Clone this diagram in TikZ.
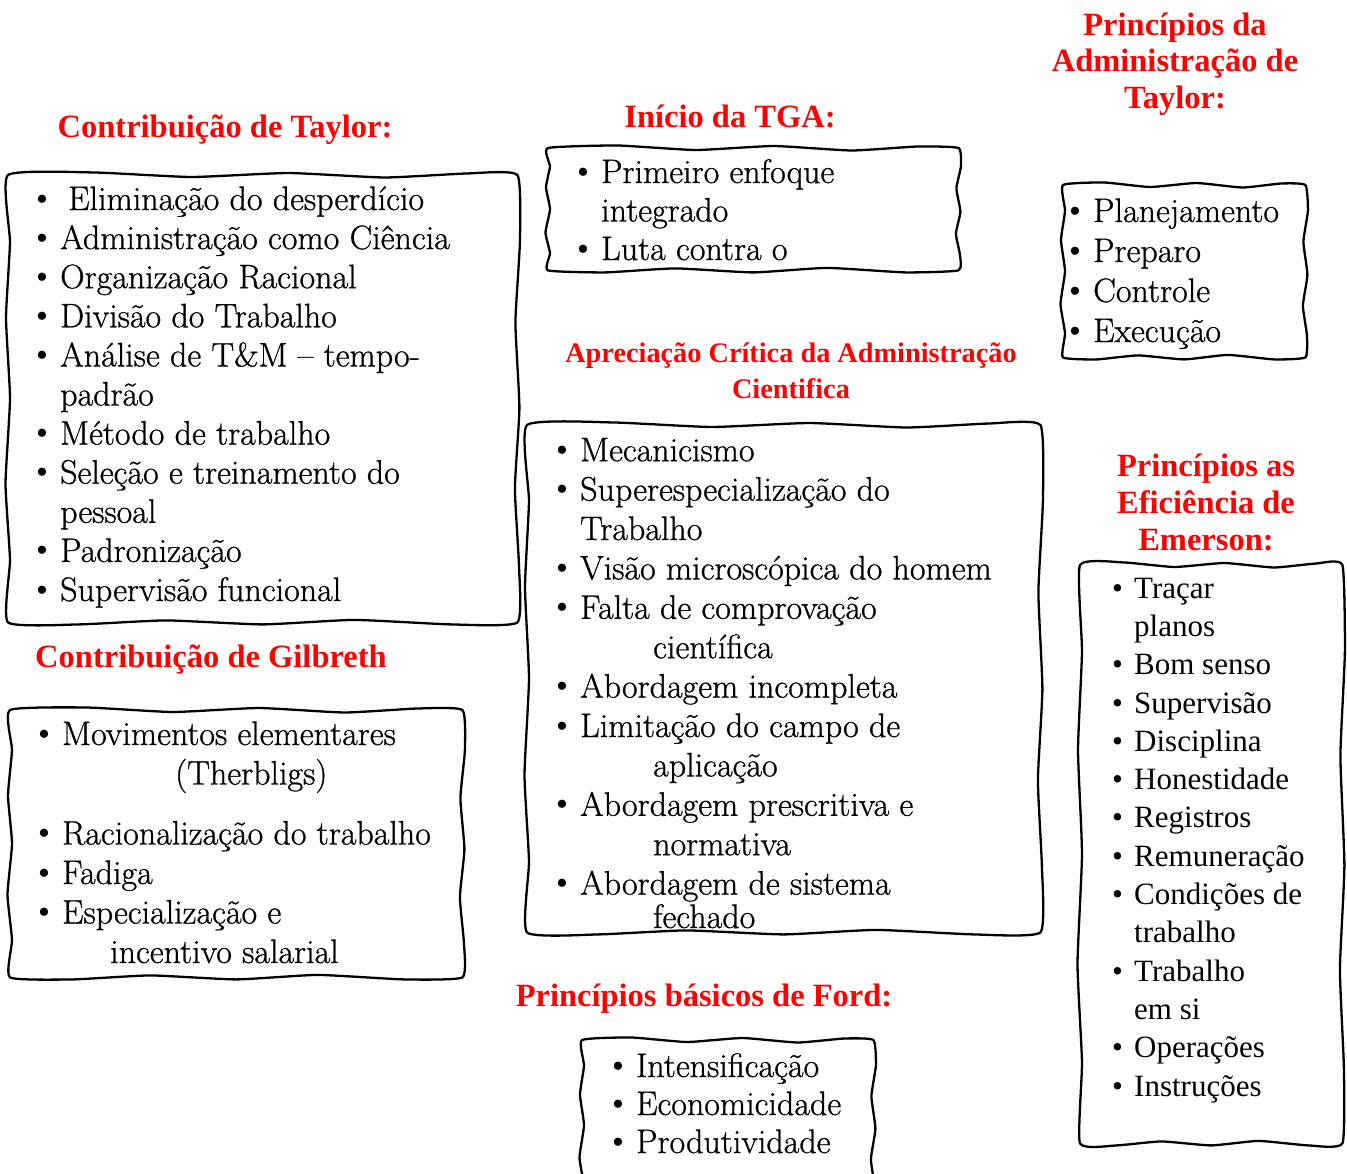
\documentclass[tikz,border=0pt]{standalone}
\usepackage{fontspec}
\setmainfont[FakeBold=0.8]{Latin Modern Roman}
\newfontfamily\headfont{Liberation Serif}
\usetikzlibrary{positioning, calc}
\definecolor{headred}{RGB}{255,0,0}
\newcommand{\bul}{\makebox[23pt][l]{{\headfont\hspace*{-1pt}•}}}
\newcommand{\cont}{\hspace*{23pt}}
\newcommand{\ebul}{\makebox[22pt][l]{•}}
% moldura ondulada feita a mao em volta de um no
\newcommand{\wavyframe}[1]{%
  \draw[framepen] plot[smooth cycle, tension=0.28] coordinates {%
    (#1.north west)
    ($(#1.north west)!0.17!(#1.north east)+(0,-2.5)$)
    ($(#1.north west)!0.36!(#1.north east)+(0,2)$)
    ($(#1.north west)!0.55!(#1.north east)+(0,-2)$)
    ($(#1.north west)!0.74!(#1.north east)+(0,2.5)$)
    ($(#1.north west)!0.9!(#1.north east)+(0,-1.5)$)
    (#1.north east)
    ($(#1.north east)!0.15!(#1.south east)+(2.5,0)$)
    ($(#1.north east)!0.33!(#1.south east)+(-2,0)$)
    ($(#1.north east)!0.52!(#1.south east)+(2,0)$)
    ($(#1.north east)!0.7!(#1.south east)+(-2.5,0)$)
    ($(#1.north east)!0.87!(#1.south east)+(1.5,0)$)
    (#1.south east)
    ($(#1.south east)!0.13!(#1.south west)+(0,2)$)
    ($(#1.south east)!0.32!(#1.south west)+(0,-2.5)$)
    ($(#1.south east)!0.5!(#1.south west)+(0,2)$)
    ($(#1.south east)!0.69!(#1.south west)+(0,-2)$)
    ($(#1.south east)!0.86!(#1.south west)+(0,2)$)
    (#1.south west)
    ($(#1.south west)!0.14!(#1.north west)+(2,0)$)
    ($(#1.south west)!0.31!(#1.north west)+(-2.5,0)$)
    ($(#1.south west)!0.5!(#1.north west)+(2,0)$)
    ($(#1.south west)!0.68!(#1.north west)+(-2,0)$)
    ($(#1.south west)!0.85!(#1.north west)+(2,0)$)
  };}

\begin{document}
\begin{tikzpicture}[
    x=1pt, y=-1pt,
    framepen/.style={draw, line width=2.3pt, line join=round},
    boxnode/.style={inner sep=0pt, anchor=north west},
    head/.style={font=\headfont\bfseries\fontsize{32.5}{37}\selectfont, text=headred, align=center, anchor=base, inner sep=0pt},
    listtxt/.style={font=\fontsize{34}{39.1}\selectfont, align=left, anchor=base west, inner sep=0pt},
    emtxt/.style={font=\headfont\fontsize{31}{38.3}\selectfont, align=left, anchor=base west, inner sep=0pt}
]
\clip (0,0) rectangle (1347,1173);

% 1. Contribuicao de Taylor (ancora na linha de base da ultima linha)
\node[head] (taylorhead) at (225,137) {Contribuição de Taylor:};
\node[boxnode, minimum width=509pt, minimum height=447pt] (taylorbox) at (8,175) {};
\wavyframe{taylorbox}
\node[listtxt] (taylorlist) at (37,601) {%
    \bul\hspace{8pt}Eliminação do desperdício\\
    \bul Administração como Ciência\\
    \bul Organização Racional\\
    \bul Divisão do Trabalho\\
    \bul Análise de T\&M – tempo-\\
    \cont padrão\\
    \bul Método de trabalho\\
    \bul Seleção e treinamento do\\
    \cont pessoal\\
    \bul Padronização\\
    \bul Supervisão funcional};

% 2. Contribuicao de Gilbreth
\node[head] (gilbhead) at (211,667) {Contribuição de Gilbreth};
\node[boxnode, minimum width=452pt, minimum height=267pt] (gilbbox) at (10,710) {};
\wavyframe{gilbbox}
\node[listtxt, font=\fontsize{34}{39.5}\selectfont] (gilblist) at (39,963) {%
    \bul Movimentos elementares\\
    \hspace*{136pt}(Therbligs)\\[20.5pt]
    \bul Racionalização do trabalho\\
    \bul Fadiga\\
    \bul Especialização e\\
    \hspace*{71pt}incentivo salarial};

% 3. Inicio da TGA
\node[head] (tgahead) at (730,127) {Início da TGA:};
\node[boxnode, minimum width=410pt, minimum height=122pt] (tgabox) at (548,148) {};
\wavyframe{tgabox}
\node[listtxt, font=\fontsize{34}{38.5}\selectfont] (tgalist) at (578,260) {%
    \bul Primeiro enfoque\\
    \cont integrado\\
    \bul Luta contra o};

% 4. Apreciacao critica
\node[head, font=\headfont\bfseries\fontsize{28.3}{36}\selectfont] (crithead) at (791,398)
    {Apreciação Crítica da Administração\\Cientifica};
\node[boxnode, minimum width=513pt, minimum height=507pt] (critbox) at (527,425) {};
\wavyframe{critbox}
\node[listtxt, font=\fontsize{34}{39.4}\selectfont] (critlist) at (557,928) {%
    \bul Mecanicismo\\
    \bul Superespecialização do\\
    \cont Trabalho\\
    \bul Visão microscópica do homem\\
    \bul Falta de comprovação\\
    \hspace*{96pt}científica\\
    \bul Abordagem incompleta\\
    \bul Limitação do campo de\\
    \hspace*{96pt}aplicação\\
    \bul Abordagem prescritiva e\\
    \hspace*{96pt}normativa\\
    \bul Abordagem de sistema\\[-6pt]
    \hspace*{96pt}fechado};

% 5. Principios basicos de Ford (caixa cortada embaixo)
\node[head] (fordhead) at (704,1006) {Princípios básicos de Ford:};
\node[boxnode, minimum width=291pt, minimum height=170pt] (fordbox) at (582,1040) {};
\wavyframe{fordbox}
\node[listtxt, font=\fontsize{34}{38}\selectfont] (fordlist) at (613,1153) {%
    \bul Intensificação\\
    \bul Economicidade\\
    \bul Produtividade};

% 6. Principios da Administracao de Taylor
\node[head, font=\headfont\bfseries\fontsize{32.5}{36.5}\selectfont] (admhead) at (1175,108)
    {Princípios da\\Administração de\\Taylor:};
\node[boxnode, minimum width=242pt, minimum height=172pt] (admbox) at (1063,185) {};
\wavyframe{admbox}
\node[listtxt, font=\fontsize{34}{40}\selectfont] (admlist) at (1070,342) {%
    \bul Planejamento\\
    \bul Preparo\\
    \bul Controle\\
    \bul Execução};

% 7. Principios de eficiencia de Emerson
\node[head] (emerhead) at (1206,550) {Princípios as\\Eficiência de\\Emerson:};
\node[boxnode, minimum width=262pt, minimum height=578pt] (emerbox) at (1080,565) {};
\wavyframe{emerbox}
\node[emtxt] (emerlist) at (1112,1096) {%
    \ebul Traçar\\
    \hspace*{22pt}planos\\
    \ebul Bom senso\\
    \ebul Supervisão\\
    \ebul Disciplina\\
    \ebul Honestidade\\
    \ebul Registros\\
    \ebul Remuneração\\
    \ebul Condições de\\
    \hspace*{22pt}trabalho\\
    \ebul Trabalho\\
    \hspace*{22pt}em si\\
    \ebul Operações\\
    \ebul Instruções};

\end{tikzpicture}
\end{document}
